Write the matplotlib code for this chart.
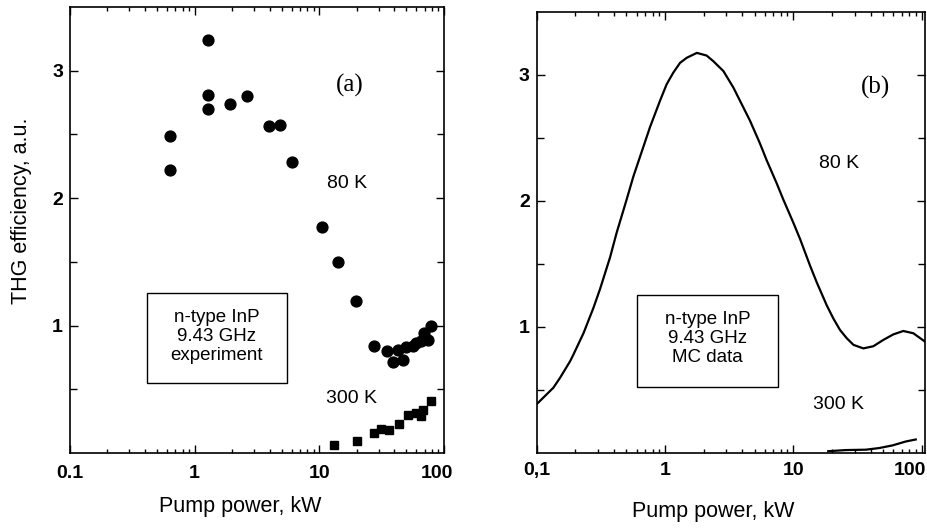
import numpy as np
import matplotlib
matplotlib.use("Agg")
import matplotlib.pyplot as plt
from matplotlib.patches import Rectangle
from matplotlib.transforms import ScaledTranslation
from matplotlib.ticker import FixedLocator, NullFormatter, LogLocator

plt.rcParams['font.family'] = ['Liberation Sans', 'DejaVu Sans']

# ---------------- data ----------------
# (a) experiment, 80 K (circles)
exp80_x = [0.64, 0.64, 1.27, 1.27, 1.27, 1.93, 2.62, 3.92, 4.86, 6.03, 10.6, 14.1, 19.8,
           27.3, 35.0, 38.8, 42.6, 46.6, 49.4, 56.0, 59.5, 65.3, 69.4, 74.0, 78.5]
exp80_y = [2.49, 2.22, 3.24, 2.81, 2.70, 2.74, 2.80, 2.565, 2.575, 2.285, 1.77, 1.495, 1.19,
           0.836, 0.80, 0.715, 0.81, 0.73, 0.828, 0.836, 0.862, 0.875, 0.94, 0.888, 1.0]
# (a) experiment, 300 K (squares)
exp300_x = [13.2, 20.2, 27.4, 31.5, 36.2, 43.6, 51.5, 59.3, 65.0, 68.4, 78.3]
exp300_y = [0.06, 0.095, 0.16, 0.19, 0.18, 0.225, 0.295, 0.315, 0.29, 0.34, 0.405]

# (b) Monte Carlo, 80 K
mc80_x = [0.1, 0.135, 0.152, 0.182, 0.193, 0.232, 0.277, 0.312, 0.373, 0.42, 0.502, 0.566,
          0.678, 0.764, 0.914, 1.03, 1.16, 1.31, 1.476, 1.77, 2.11, 2.38, 2.85, 3.41, 3.84,
          4.59, 5.50, 6.19, 7.41, 8.36, 10.0, 11.3, 13.5, 15.2, 18.2, 20.5, 23.1, 26.1,
          29.4, 35.1, 42.0, 50.2, 60.1, 71.9, 86.1, 106]
mc80_y = [0.385, 0.516, 0.594, 0.725, 0.777, 0.95, 1.15, 1.30, 1.55, 1.746, 2.008, 2.19,
          2.427, 2.584, 2.793, 2.924, 3.016, 3.094, 3.134, 3.173, 3.152, 3.107, 3.029, 2.898,
          2.793, 2.636, 2.453, 2.322, 2.139, 2.008, 1.825, 1.694, 1.484, 1.353, 1.17, 1.065,
          0.974, 0.908, 0.856, 0.828, 0.845, 0.895, 0.939, 0.966, 0.948, 0.882]
# (b) Monte Carlo, 300 K
mc300_x = [18.7, 25.6, 36.7, 46.6, 59.2, 75.1, 89.9]
mc300_y = [0.012, 0.021, 0.024, 0.037, 0.058, 0.089, 0.105]

xt_a = [0.1, 1, 10, 100]
xl_a = ['0.1', '1', '10', '100']
xl_b = ['0,1', '1', '10', '100']
yt = [1, 2, 3]
yl = ['1', '2', '3']
ymin_t = [0.5, 1.5, 2.5]

# ---------------- figure ----------------
fig = plt.figure(figsize=(9.28, 5.29), dpi=100)
ax1 = fig.add_axes([0.0754, 0.1437, 0.403, 0.843])
ax2 = fig.add_axes([0.5783, 0.1442, 0.4184, 0.8337])

tickfont = dict(family='Liberation Sans', weight='bold', size=14)

def style(ax, xlim, xlabels, dx100, xpad):
    ax.set_xscale('log')
    ax.set_xlim(*xlim)
    ax.set_ylim(0, 3.5)
    ax.set_xticks(xt_a)
    ax.set_xticklabels(xlabels, fontdict=tickfont)
    ax.xaxis.set_minor_locator(LogLocator(base=10, subs=np.arange(2, 10)))
    ax.xaxis.set_minor_formatter(NullFormatter())
    ax.set_yticks(yt)
    ax.set_yticklabels(yl, fontdict=tickfont)
    ax.yaxis.set_minor_locator(FixedLocator(ymin_t))
    ax.tick_params(which='both', direction='in', top=True, right=True, width=1.0)
    ax.tick_params(axis='x', which='major', length=6, pad=xpad)
    ax.tick_params(axis='x', which='minor', length=3)
    ax.tick_params(axis='y', which='major', length=6, pad=5)
    ax.tick_params(axis='y', which='minor', length=5)
    for s in ax.spines.values():
        s.set_linewidth(1.2)
    for lab in ax.get_xticklabels():
        if lab.get_text() == '100':
            lab.set_transform(lab.get_transform() +
                              ScaledTranslation(dx100 / 100.0, 0, fig.dpi_scale_trans))

style(ax1, (0.1, 100), xl_a, -7, 9)
style(ax2, (0.1, 106), xl_b, -12, 7)

# panel (a)
ax1.plot(exp80_x, exp80_y, 'o', color='black', markersize=7.8, linestyle='none')
ax1.plot(exp300_x, exp300_y, 's', color='black', markersize=6.2, linestyle='none')
ax1.add_patch(Rectangle((0.206, 0.157), 0.374, 0.202, transform=ax1.transAxes,
                        facecolor='white', edgecolor='black', linewidth=1.0))
ax1.text(0.393, 0.262, 'n-type InP\n9.43 GHz\nexperiment', transform=ax1.transAxes,
         ha='center', va='center', fontsize=13.5, linespacing=1.15)
ax1.text(0.749, 0.825, '(a)', transform=ax1.transAxes, ha='center', va='center',
         fontsize=18, family='Liberation Serif')
ax1.text(0.741, 0.605, '80 K', transform=ax1.transAxes, ha='center', va='center', fontsize=14)
ax1.text(0.754, 0.123, '300 K', transform=ax1.transAxes, ha='center', va='center', fontsize=14)

# panel (b)
ax2.plot(mc80_x, mc80_y, '-', color='black', linewidth=1.6, solid_joinstyle='round')
ax2.plot(mc300_x, mc300_y, '-', color='black', linewidth=1.6)
ax2.add_patch(Rectangle((0.258, 0.149), 0.363, 0.2086, transform=ax2.transAxes,
                        facecolor='white', edgecolor='black', linewidth=1.0))
ax2.text(0.44, 0.258, 'n-type InP\n9.43 GHz\nMC data', transform=ax2.transAxes,
         ha='center', va='center', fontsize=13.5, linespacing=1.15)
ax2.text(0.872, 0.829, '(b)', transform=ax2.transAxes, ha='center', va='center',
         fontsize=18, family='Liberation Serif')
ax2.text(0.778, 0.656, '80 K', transform=ax2.transAxes, ha='center', va='center', fontsize=14)
ax2.text(0.778, 0.110, '300 K', transform=ax2.transAxes, ha='center', va='center', fontsize=14)

# axis labels
fig.text(0.0234, 0.601, 'THG efficiency, a.u.', rotation=90, ha='center', va='center',
         fontsize=15.5)
fig.text(0.2586, 0.043, 'Pump power, kW', ha='center', va='center', fontsize=15.5)
fig.text(0.769, 0.033, 'Pump power, kW', ha='center', va='center', fontsize=15.5)

fig.savefig('out.png', dpi=100)
